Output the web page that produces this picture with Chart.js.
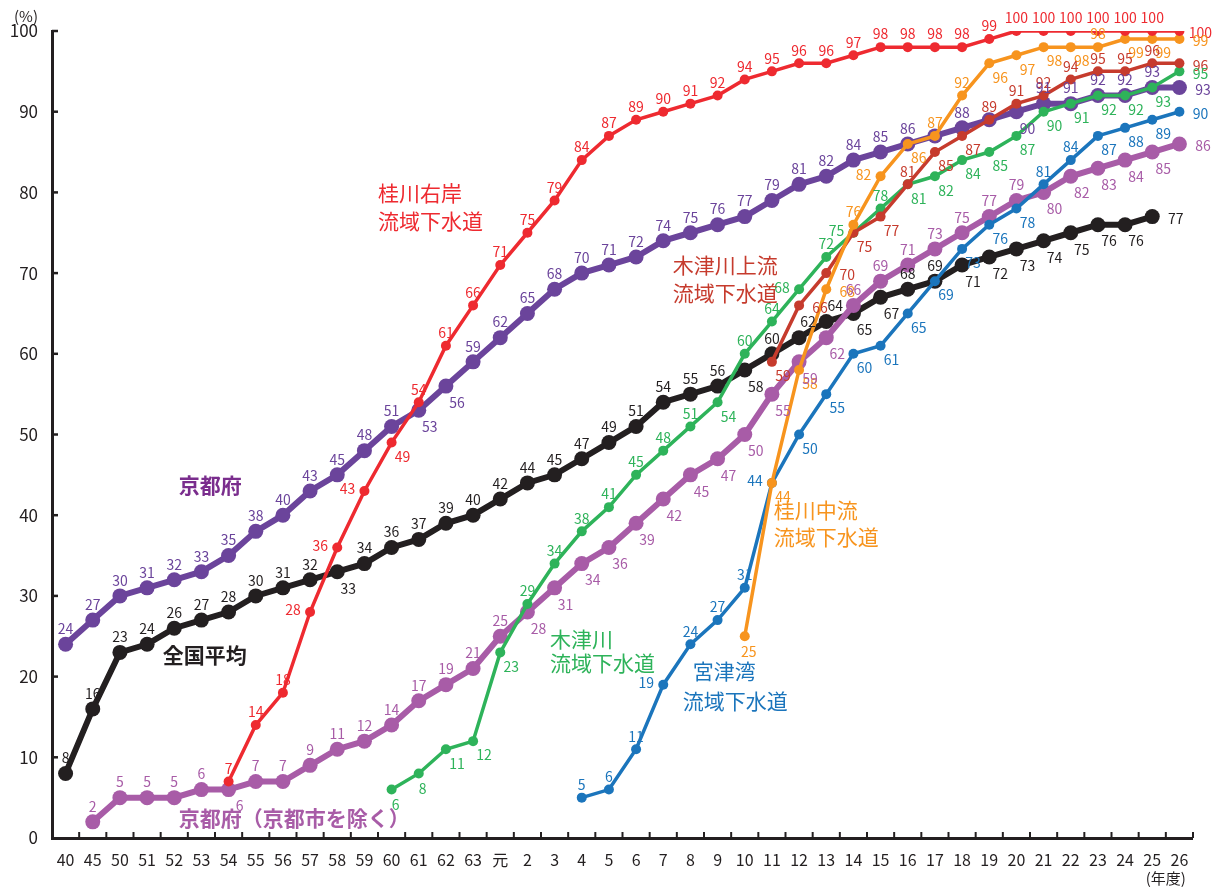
<!DOCTYPE html>
<html lang="ja">
<head>
<meta charset="utf-8">
<title>下水道普及率の推移</title>
<script src="https://cdn.jsdelivr.net/npm/chart.js@4.4.1/dist/chart.umd.min.js"></script>
<style>
  html, body { margin: 0; padding: 0; background: #ffffff; }
  #wrap { width: 1219px; height: 889px; position: relative; }
</style>
</head>
<body>
<div id="wrap"><canvas id="chart" width="1219" height="889"></canvas></div>
<script>
// 年度（昭和40年度〜平成26年度）
const categories = ['40','45','50','51','52','53','54','55','56','57','58','59','60','61','62','63','元',
  '2','3','4','5','6','7','8','9','10','11','12','13','14','15','16','17','18','19','20','21','22','23','24','25','26'];

// 普及率（%）: 各系列は開始年度から
const zenkokuStart = '40';
const zenkokuValues = [8,16,23,24,26,27,28,30,31,32,33,34,36,37,39,40,42,44,45,47,49,51,54,55,56,58,60,62,64,65,67,68,69,71,72,73,74,75,76,76,77];

const kyotoStart = '40';
const kyotoValues = [24,27,30,31,32,33,35,38,40,43,45,48,51,53,56,59,62,65,68,70,71,72,74,75,76,77,79,81,82,84,85,86,87,88,89,90,91,91,92,92,93,93];

const kyotoExclStart = '45';
const kyotoExclValues = [2,5,5,5,6,6,7,7,9,11,12,14,17,19,21,25,28,31,34,36,39,42,45,47,50,55,59,62,66,69,71,73,75,77,79,80,82,83,84,85,86];

const katsuraUganStart = '54';
const katsuraUganValues = [7,14,18,28,36,43,49,54,61,66,71,75,79,84,87,89,90,91,92,94,95,96,96,97,98,98,98,98,99,100,100,100,100,100,100,100];

const kizugawaStart = '60';
const kizugawaValues = [6,8,11,12,23,29,34,38,41,45,48,51,54,60,64,68,72,75,78,81,82,84,85,87,90,91,92,92,93,95];

const kizuJoryuStart = '11';
const kizuJoryuValues = [59,66,70,75,77,81,85,87,89,91,92,94,95,95,96,96];

const katsuraChuryuStart = '10';
const katsuraChuryuValues = [25,44,58,68,76,82,86,87,92,96,97,98,98,98,99,99,99];

const miyazuStart = '4';
const miyazuValues = [5,6,11,19,24,27,31,44,50,55,60,61,65,69,73,76,78,81,84,87,88,89,90];

// 数値ラベルの置き場所（a:上 R:右上 b:右下 B:下 r:右 l:左 n:なし）を連続数で記述
const zenkokuPlace       = 'a10 b1 a14 b1 a1 R2 b2 a2 b7 r1';
const kyotoPlace         = 'a13 b2 a17 n1 a1 n1 b1 a5 r1';
const kyotoExclPlace     = 'a5 b1 a10 b12 a7 b5 r1';
const katsuraUganPlace   = 'a3 l3 b1 a28 r1';
const kizugawaPlace      = 'B2 b3 a7 b1 a2 l1 a1 l1 a1 b10 r1';
const kizuJoryuPlace     = 'b1 r2 b2 a1 b2 a7 r1';
const katsuraChuryuPlace = 'B1 b2 r1 a1 l1 b1 a2 b4 a1 b2 r1';
const miyazuPlace        = 'a3 l1 a3 l1 b9 a2 b3 r1';

function expandRuns(spec) {
  const out = [];
  spec.trim().split(/\s+/).forEach(tok => {
    const code = tok[0];
    const n = parseInt(tok.slice(1), 10);
    for (let i = 0; i < n; i++) out.push(code);
  });
  return out;
}

const FONT = '"Noto Sans CJK JP", "Noto Sans", sans-serif';
const INK = '#231F20';

const series = [
  { label: '桂川右岸流域下水道', start: katsuraUganStart, values: katsuraUganValues, place: katsuraUganPlace, color: '#EE2A30', width: 3.5, radius: 5 },
  { label: '桂川中流流域下水道', start: katsuraChuryuStart, values: katsuraChuryuValues, place: katsuraChuryuPlace, color: '#F7941E', width: 3.5, radius: 5 },
  { label: '木津川上流流域下水道', start: kizuJoryuStart, values: kizuJoryuValues, place: kizuJoryuPlace, color: '#C63B2D', width: 3.5, radius: 5 },
  { label: '宮津湾流域下水道', start: miyazuStart, values: miyazuValues, place: miyazuPlace, color: '#1B75BC', width: 3.5, radius: 5 },
  { label: '木津川流域下水道', start: kizugawaStart, values: kizugawaValues, place: kizugawaPlace, color: '#2EB35A', width: 3.5, radius: 5 },
  { label: '京都府（京都市を除く）', start: kyotoExclStart, values: kyotoExclValues, place: kyotoExclPlace, color: '#A85CA7', width: 6, radius: 7.5 },
  { label: '京都府', start: kyotoStart, values: kyotoValues, place: kyotoPlace, color: '#6B449B', width: 6, radius: 7.5 },
  { label: '全国平均', start: zenkokuStart, values: zenkokuValues, place: zenkokuPlace, color: INK, width: 6, radius: 7.5 }
];
series.forEach(s => { s.codes = expandRuns(s.place); });

function alignToCategories(startCat, values) {
  const out = new Array(categories.length).fill(null);
  const s = categories.indexOf(startCat);
  values.forEach((v, i) => { out[s + i] = v; });
  return out;
}

// 系列名の注記（位置は年度インデックスと値で指定）
const notes = [
  { text: '京都府', idx: 4.17, val: 43.7, color: '#7A2D8D', bold: true },
  { text: '全国平均', idx: 3.58, val: 22.7, color: INK, bold: true },
  { text: '京都府（京都市を除く）', idx: 4.17, val: 2.5, color: '#A85CA7', bold: true },
  { text: '桂川右岸', idx: 11.5, val: 79.9, color: '#EE2A30' },
  { text: '流域下水道', idx: 11.5, val: 76.4, color: '#EE2A30' },
  { text: '木津川上流', idx: 22.35, val: 71.0, color: '#C63B2D' },
  { text: '流域下水道', idx: 22.35, val: 67.5, color: '#C63B2D' },
  { text: '桂川中流', idx: 26.07, val: 40.6, color: '#F7941E' },
  { text: '流域下水道', idx: 26.07, val: 37.3, color: '#F7941E' },
  { text: '木津川', idx: 17.83, val: 24.7, color: '#2EB35A' },
  { text: '流域下水道', idx: 17.83, val: 21.7, color: '#2EB35A' },
  { text: '宮津湾', idx: 23.09, val: 20.7, color: '#1B75BC' },
  { text: '流域下水道', idx: 22.72, val: 17.0, color: '#1B75BC' }
];

function labelOffset(code, r) {
  switch (code) {
    case 'a': return [0, -(r + 8)];
    case 'R': return [9, -(r + 8)];
    case 'b': return [11, r + 9];
    case 'B': return [4, r + 10];
    case 'r': return [r + 16, 2];
    case 'l': return [-(r + 12), -2];
    default: return null;
  }
}

const valueLabels = {
  id: 'valueLabels',
  afterDatasetsDraw(chart) {
    const ctx = chart.ctx;
    ctx.save();
    ctx.font = '14px ' + FONT;
    ctx.textAlign = 'center';
    ctx.textBaseline = 'middle';
    series.forEach((s, di) => {
      const meta = chart.getDatasetMeta(di);
      const s0 = categories.indexOf(s.start);
      ctx.fillStyle = s.color;
      s.values.forEach((v, i) => {
        const el = meta.data[s0 + i];
        if (!el) return;
        const off = labelOffset(s.codes[i] || 'a', s.radius);
        if (!off) return;
        ctx.fillText(String(v), el.x + off[0], el.y + off[1]);
      });
    });
    ctx.restore();
  }
};

const axisDecor = {
  id: 'axisDecor',
  afterDraw(chart) {
    const ctx = chart.ctx;
    const xs = chart.scales.x, ys = chart.scales.y;
    const left = xs.left, bottom = ys.bottom;
    ctx.save();
    ctx.strokeStyle = INK;
    ctx.lineCap = 'butt';
    // 内向きの目盛り
    ctx.lineWidth = 2.5;
    for (let v = 10; v <= 100; v += 10) {
      const y = ys.getPixelForValue(v);
      ctx.beginPath(); ctx.moveTo(left, y); ctx.lineTo(left + 6, y); ctx.stroke();
    }
    ctx.lineWidth = 2;
    for (let i = 0; i < categories.length; i++) {
      const x = xs.getPixelForValue(i + 0.5);
      ctx.beginPath(); ctx.moveTo(x, bottom); ctx.lineTo(x, bottom - 6); ctx.stroke();
    }
    // 単位
    ctx.fillStyle = INK;
    ctx.textBaseline = 'middle';
    ctx.textAlign = 'center';
    ctx.font = '15px ' + FONT;
    ctx.fillText('(%)', 26, 16);
    ctx.fillText('(年度)', xs.getPixelForValue(categories.length - 1.5), bottom + 40);
    // 系列名
    ctx.textAlign = 'left';
    notes.forEach(n => {
      ctx.font = (n.bold ? 'bold ' : '') + '21px ' + FONT;
      ctx.fillStyle = n.color;
      ctx.fillText(n.text, xs.getPixelForValue(n.idx), ys.getPixelForValue(n.val));
    });
    ctx.restore();
  }
};

const axisGrid = { display: true, drawOnChartArea: false, drawTicks: false, lineWidth: 0 };

new Chart(document.getElementById('chart'), {
  type: 'line',
  data: {
    labels: categories,
    datasets: series.map(s => ({
      label: s.label,
      data: alignToCategories(s.start, s.values),
      borderColor: s.color,
      backgroundColor: s.color,
      borderWidth: s.width,
      pointRadius: s.radius,
      pointBorderWidth: 0,
      pointBackgroundColor: s.color,
      tension: 0,
      spanGaps: false,
      fill: false
    }))
  },
  options: {
    responsive: false,
    animation: false,
    events: [],
    layout: { padding: { top: 31, right: 26, left: 0, bottom: 0 } },
    plugins: { legend: { display: false }, tooltip: { enabled: false } },
    scales: {
      x: {
        offset: true,
        grid: axisGrid,
        border: { display: true, color: INK, width: 3 },
        ticks: { color: INK, font: { family: FONT, size: 16 }, maxRotation: 0, autoSkip: false, padding: 12 },
        afterFit(scale) { scale.height = 51; }
      },
      y: {
        min: 0, max: 100,
        grid: axisGrid,
        border: { display: true, color: INK, width: 3 },
        ticks: { stepSize: 10, color: INK, font: { family: FONT, size: 17 }, padding: 14 },
        afterFit(scale) { scale.width = 52; }
      }
    }
  },
  plugins: [valueLabels, axisDecor]
});
</script>
</body>
</html>
